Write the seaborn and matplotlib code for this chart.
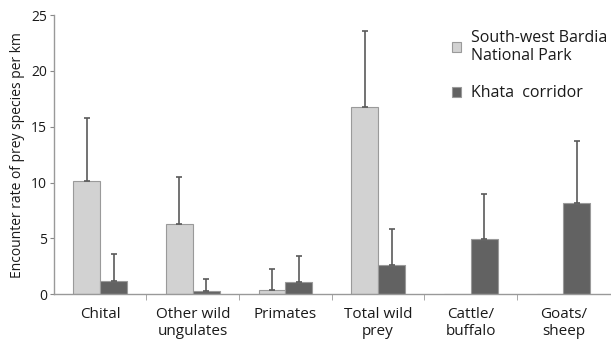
import numpy as np
import pandas as pd
import matplotlib
matplotlib.use("Agg")
import matplotlib.pyplot as plt
import seaborn as sns

# Values
categories = ["Chital", "Other wild\nungulates", "Primates", "Total wild\nprey",
              "Cattle/\nbuffalo", "Goats/\nsheep"]
bardia_mean = [10.1, 6.3, 0.4, 16.8, 0.0, 0.0]
bardia_upper = [15.8, 10.5, 2.25, 23.6, np.nan, np.nan]
khata_mean = [1.2, 0.3, 1.1, 2.6, 4.9, 8.2]
khata_upper = [3.6, 1.35, 3.45, 5.8, 9.0, 13.7]
sites = ["South-west Bardia\nNational Park", "Khata  corridor"]

df = pd.DataFrame({
    "category": categories * 2,
    "site": [sites[0]] * 6 + [sites[1]] * 6,
    "rate": bardia_mean + khata_mean,
})

sns.set_style("white")
plt.rcParams["font.family"] = ["Open Sans", "DejaVu Sans"]

fig = plt.figure(figsize=(6.11, 3.44), dpi=100)
ax = fig.add_axes([0.088, 0.145, 0.91, 0.811])

palette = {sites[0]: "#d2d2d2", sites[1]: "#626262"}
sns.barplot(data=df, x="category", y="rate", hue="site", palette=palette,
            width=0.58, errorbar=None, edgecolor="#9a9a9a", linewidth=0.8,
            saturation=1, ax=ax)

# upward-only error bars on top of each bar
for cont, upper in zip(ax.containers, [bardia_upper, khata_upper]):
    for bar, up in zip(cont, upper):
        if np.isnan(up):
            continue
        x = bar.get_x() + bar.get_width() / 2
        h = bar.get_height()
        ax.errorbar(x, h, yerr=[[0], [up - h]], fmt="none", ecolor="#5a5a5a",
                    elinewidth=1.2, capsize=2.5, capthick=1.2, zorder=3)

ax.set_ylim(0, 25)
ax.set_xlim(-0.5, 5.5)
ax.set_yticks([0, 5, 10, 15, 20, 25])
ax.set_xlabel("")
ax.set_ylabel("Encounter rate of prey species per km", fontsize=10, color="#1a1a1a",
              labelpad=4)
ax.tick_params(axis="y", labelsize=10, length=3, color="#888888", labelcolor="#1a1a1a",
               left=True, pad=2)
ax.set_xticks(range(len(categories)))
ax.set_xticklabels(categories, fontsize=11, color="#1a1a1a", linespacing=1.2)
ax.tick_params(axis="x", length=0, pad=9)
# small ticks between the groups
ax.set_xticks(np.arange(0.5, 5.5, 1), minor=True)
ax.tick_params(axis="x", which="minor", length=4, color="#999999", bottom=True)

sns.despine(ax=ax)
for s in ["left", "bottom"]:
    ax.spines[s].set_color("#999999")
    ax.spines[s].set_linewidth(1.0)

leg = ax.legend(loc="upper left", bbox_to_anchor=(0.69, 1.0), frameon=False,
                fontsize=11.5, handlelength=0.6, handleheight=0.6,
                handletextpad=0.6, labelspacing=1.35)
for h in leg.legend_handles:
    h.set_edgecolor("#9a9a9a")
for t in leg.get_texts():
    t.set_color("#1a1a1a")

fig.savefig("out.png", dpi=100)
